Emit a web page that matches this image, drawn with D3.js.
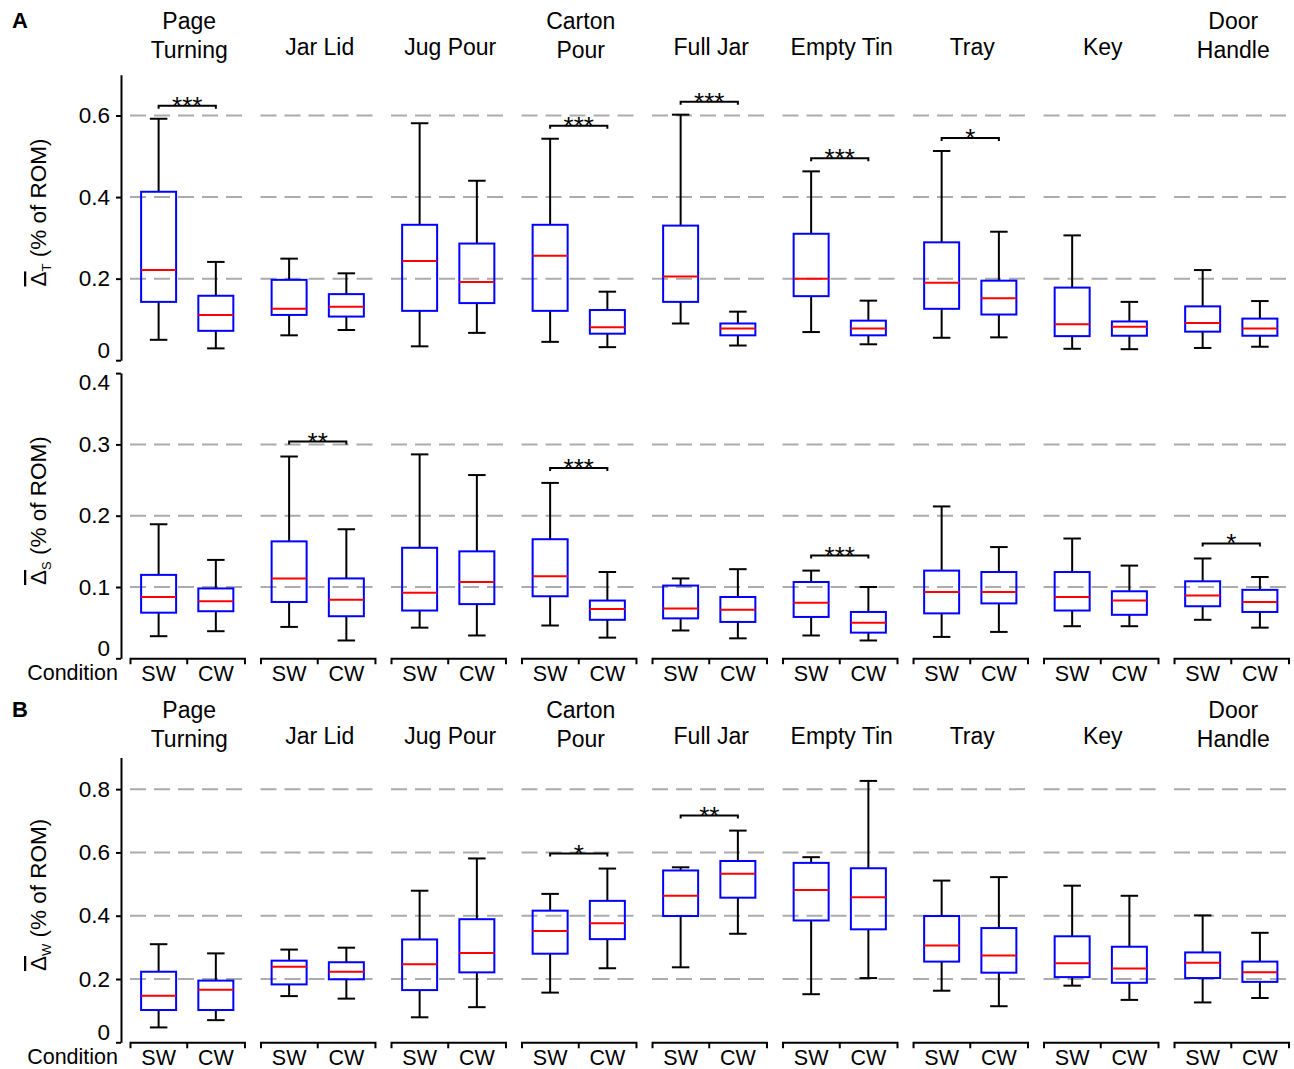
<!DOCTYPE html>
<html>
<head>
<meta charset="utf-8">
<style>
body { margin: 0; background: #fff; }
svg text { font-family: "Liberation Sans", Arial, sans-serif; fill: #000; }
.grid line { stroke: #ababab; stroke-width: 2; stroke-dasharray: 16,8; }
.yaxis path, .yaxis line, .cond path, .cond line { stroke: #000; stroke-width: 2; }
.whisker { stroke: #000; stroke-width: 2; }
.box { fill: none; stroke: #0000ff; stroke-width: 2; }
.median { stroke: #ff0000; stroke-width: 2; }
.sig { fill: none; stroke: #000; stroke-width: 2; }
</style>
<title>Box plots</title>
</head>
<body>
<div id="chart"></div>
<script src="https://d3js.org/d3.v7.min.js"></script>
<script>
// tasks and conditions
var tasks = ["Page Turning", "Jar Lid", "Jug Pour", "Carton Pour", "Full Jar", "Empty Tin", "Tray", "Key", "Door Handle"];
var titleLines = [["Page", "Turning"], ["Jar Lid"], ["Jug Pour"], ["Carton", "Pour"], ["Full Jar"], ["Empty Tin"], ["Tray"], ["Key"], ["Door", "Handle"]];
var conditions = ["SW", "CW"];

// [min, q1, median, q3, max] per task
var deltaT_SW = [
  [0.050, 0.143, 0.221, 0.413, 0.592],
  [0.061, 0.111, 0.126, 0.197, 0.249],
  [0.034, 0.121, 0.243, 0.332, 0.581],
  [0.045, 0.121, 0.256, 0.332, 0.543],
  [0.090, 0.143, 0.205, 0.330, 0.602],
  [0.069, 0.157, 0.200, 0.310, 0.463],
  [0.055, 0.126, 0.190, 0.289, 0.513],
  [0.028, 0.059, 0.088, 0.178, 0.306],
  [0.030, 0.070, 0.091, 0.132, 0.221]
];
var deltaT_CW = [
  [0.029, 0.072, 0.111, 0.158, 0.241],
  [0.074, 0.107, 0.131, 0.162, 0.213],
  [0.067, 0.140, 0.192, 0.286, 0.440],
  [0.032, 0.065, 0.081, 0.123, 0.168],
  [0.036, 0.061, 0.078, 0.090, 0.119],
  [0.039, 0.061, 0.078, 0.097, 0.146],
  [0.056, 0.112, 0.152, 0.195, 0.315],
  [0.027, 0.060, 0.082, 0.095, 0.143],
  [0.033, 0.060, 0.078, 0.102, 0.145]
];
var deltaS_SW = [
  [0.031, 0.064, 0.086, 0.117, 0.188],
  [0.044, 0.079, 0.112, 0.164, 0.283],
  [0.043, 0.067, 0.092, 0.155, 0.286],
  [0.046, 0.087, 0.115, 0.167, 0.246],
  [0.039, 0.056, 0.070, 0.102, 0.112],
  [0.032, 0.058, 0.078, 0.107, 0.123],
  [0.030, 0.063, 0.093, 0.123, 0.213],
  [0.045, 0.067, 0.086, 0.121, 0.168],
  [0.054, 0.073, 0.088, 0.108, 0.140]
];
var deltaS_CW = [
  [0.038, 0.066, 0.080, 0.098, 0.138],
  [0.025, 0.059, 0.082, 0.112, 0.181],
  [0.032, 0.076, 0.107, 0.150, 0.257],
  [0.029, 0.054, 0.069, 0.081, 0.121],
  [0.028, 0.051, 0.068, 0.086, 0.125],
  [0.025, 0.036, 0.050, 0.065, 0.100],
  [0.037, 0.077, 0.093, 0.121, 0.156],
  [0.045, 0.061, 0.081, 0.094, 0.130],
  [0.043, 0.065, 0.079, 0.096, 0.114]
];
var deltaW_SW = [
  [0.047, 0.102, 0.147, 0.223, 0.310],
  [0.146, 0.183, 0.239, 0.258, 0.293],
  [0.079, 0.165, 0.247, 0.325, 0.479],
  [0.157, 0.280, 0.352, 0.416, 0.469],
  [0.237, 0.399, 0.463, 0.543, 0.553],
  [0.152, 0.385, 0.481, 0.567, 0.585],
  [0.163, 0.255, 0.306, 0.399, 0.511],
  [0.179, 0.206, 0.250, 0.335, 0.495],
  [0.126, 0.203, 0.251, 0.284, 0.401]
];
var deltaW_CW = [
  [0.070, 0.102, 0.166, 0.195, 0.281],
  [0.138, 0.199, 0.223, 0.253, 0.299],
  [0.111, 0.221, 0.282, 0.389, 0.581],
  [0.234, 0.326, 0.376, 0.447, 0.549],
  [0.343, 0.457, 0.533, 0.573, 0.669],
  [0.203, 0.357, 0.458, 0.550, 0.826],
  [0.114, 0.220, 0.274, 0.361, 0.522],
  [0.134, 0.188, 0.233, 0.302, 0.463],
  [0.140, 0.191, 0.221, 0.255, 0.346]
];

// significance stars
var sigT = {"Page Turning": "***", "Carton Pour": "***", "Full Jar": "***", "Empty Tin": "***", "Tray": "*"};
var sigS = {"Jar Lid": "**", "Carton Pour": "***", "Empty Tin": "***", "Door Handle": "*"};
var sigW = {"Carton Pour": "*", "Full Jar": "**"};

// tick values
var ticksT = [0, 0.2, 0.4, 0.6], gridT = [0.2, 0.4, 0.6];
var ticksS = [0, 0.1, 0.2, 0.3, 0.4], gridS = [0.1, 0.2, 0.3];
var ticksW = [0, 0.2, 0.4, 0.6, 0.8], gridW = [0.2, 0.4, 0.6, 0.8];

var width = 1294, height = 1069;
var svg = d3.select("#chart").append("svg")
    .attr("width", width)
    .attr("height", height);

var x = d3.scaleBand()
    .domain(tasks)
    .range([130, 1288.5])
    .paddingInner(0.123)
    .paddingOuter(0);
var bw = x.bandwidth();
var xc = d3.scaleBand().domain(conditions).range([0, bw]);
var boxW = 35;

function cx(task, c) { return x(task) + xc(c) + xc.bandwidth() / 2; }

var panels = [
  {sub: "T", data: [deltaT_SW, deltaT_CW], max: 0.7, r: [360.2, 74.7], ticks: ticksT, grid: gridT, sig: sigT, sigOff: 13, titleY: 57.5, letter: "A", cond: false},
  {sub: "S", data: [deltaS_SW, deltaS_CW], max: 0.4, r: [658.3, 373.1], ticks: ticksS, grid: gridS, sig: sigS, sigOff: 15, titleY: null, cond: true},
  {sub: "W", data: [deltaW_SW, deltaW_CW], max: 0.9, r: [1042.3, 757.5], ticks: ticksW, grid: gridW, sig: sigW, sigOff: 15, titleY: 746.5, letter: "B", cond: true}
];

panels.forEach(function(p) {
  var y = d3.scaleLinear().domain([0, p.max]).range(p.r);
  var g = svg.append("g");

  // dashed grid, one piece per task
  var grid = g.append("g").attr("class", "grid");
  tasks.forEach(function(t) {
    grid.selectAll(null)
      .data(p.grid)
      .enter().append("line")
        .attr("x1", x(t))
        .attr("x2", x(t) + bw)
        .attr("y1", function(d) { return y(d); })
        .attr("y2", function(d) { return y(d); });
  });

  // y axis
  var ax = g.append("g")
      .attr("class", "yaxis")
      .attr("transform", "translate(121,0)")
      .call(d3.axisLeft(y)
        .tickValues(p.ticks)
        .tickSize(5)
        .tickSizeOuter(0)
        .tickPadding(6)
        .tickFormat(function(d) { return d === 0 ? "0" : d3.format(".1f")(d); }));
  ax.selectAll("text").attr("font-size", 22.5).attr("font-family", "'Liberation Sans', Arial, sans-serif");
  ax.selectAll(".tick").filter(function(d) { return d === 0; })
    .select("text").attr("y", -10);
  // label at the very top of the axis sits a little lower
  ax.selectAll(".tick").filter(function(d) { return d === p.max; })
    .select("text").attr("y", 9);

  // y label
  var mid = (p.r[0] + p.r[1]) / 2 - 5;
  var lab = g.append("text")
      .attr("transform", "translate(46," + mid + ") rotate(-90)")
      .attr("text-anchor", "middle")
      .attr("font-size", 22.5);
  lab.append("tspan").text("\u0394").style("text-decoration", "overline");
  lab.append("tspan").attr("font-size", 13).attr("dy", 5).text(p.sub);
  lab.append("tspan").attr("dy", -5).text(" (% of ROM)");

  // boxes
  tasks.forEach(function(t, i) {
    conditions.forEach(function(c, j) {
      var s = p.data[j][i];
      var xm = cx(t, c);
      var b = g.append("g");
      b.append("line").attr("class", "whisker")
        .attr("x1", xm).attr("x2", xm).attr("y1", y(s[0])).attr("y2", y(s[1]));
      b.append("line").attr("class", "whisker")
        .attr("x1", xm).attr("x2", xm).attr("y1", y(s[3])).attr("y2", y(s[4]));
      [s[0], s[4]].forEach(function(v) {
        b.append("line").attr("class", "whisker")
          .attr("x1", xm - boxW / 4).attr("x2", xm + boxW / 4)
          .attr("y1", y(v)).attr("y2", y(v));
      });
      b.append("rect").attr("class", "box")
        .attr("x", xm - boxW / 2).attr("width", boxW)
        .attr("y", y(s[3])).attr("height", y(s[1]) - y(s[3]));
      b.append("line").attr("class", "median")
        .attr("x1", xm - boxW / 2).attr("x2", xm + boxW / 2)
        .attr("y1", y(s[2])).attr("y2", y(s[2]));
    });

    // significance bracket
    var stars = p.sig[t];
    if (stars) {
      var top = Math.max(p.data[0][i][4], p.data[1][i][4]);
      var yb = y(top) - p.sigOff;
      var x1 = cx(t, "SW"), x2 = cx(t, "CW");
      g.append("path").attr("class", "sig")
        .attr("d", "M" + x1 + "," + (yb + 3) + "V" + yb + "H" + x2 + "V" + (yb + 3));
      g.append("text")
        .attr("x", (x1 + x2) / 2)
        .attr("y", yb + 9)
        .attr("text-anchor", "middle")
        .attr("font-size", 26)
        .text(stars);
    }

    // condition axis
    if (p.cond) {
      var ca = g.append("g")
          .attr("class", "cond")
          .attr("transform", "translate(" + x(t) + "," + p.r[0] + ")")
          .call(d3.axisBottom(xc).tickSize(0).tickSizeOuter(6).tickPadding(7));
      ca.selectAll("text").attr("font-size", 21.5).attr("font-family", "'Liberation Sans', Arial, sans-serif");
      ca.append("line").attr("x1", bw / 2).attr("x2", bw / 2).attr("y1", 0).attr("y2", 6);
    }

    // task titles
    if (p.titleY !== null) {
      var lines = titleLines[i];
      var tt = g.append("text")
          .attr("text-anchor", "middle")
          .attr("font-size", 23);
      lines.forEach(function(l, k) {
        var yy = lines.length === 1 ? p.titleY - 2.5 : p.titleY - (lines.length - 1 - k) * 29;
        tt.append("tspan").attr("x", x(t) + bw / 2 + 2).attr("y", yy).text(l);
      });
    }
  });

  if (p.cond) {
    g.append("text")
      .attr("x", 118)
      .attr("y", p.r[0] + 22)
      .attr("text-anchor", "end")
      .attr("font-size", 21.5)
      .text("Condition");
  }

  if (p.letter) {
    g.append("text")
      .attr("x", 12)
      .attr("y", p.titleY - 29.5)
      .attr("font-size", 22)
      .attr("font-weight", "bold")
      .text(p.letter);
  }
});
</script>
</body>
</html>
